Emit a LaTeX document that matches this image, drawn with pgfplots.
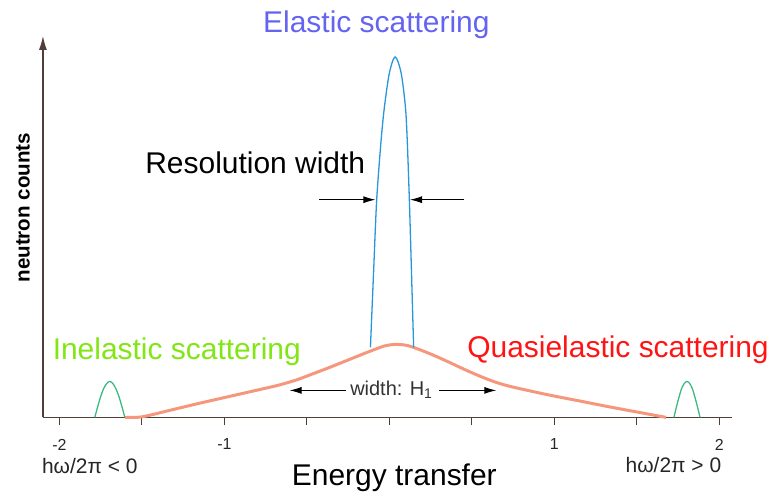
\documentclass[border=0pt]{standalone}
\usepackage{fontspec}
\setmainfont{Liberation Sans}
\usepackage{pgfplots}
\pgfplotsset{compat=1.18}
\usetikzlibrary{arrows.meta}

\definecolor{axiscol}{RGB}{80,62,56}
\definecolor{elastic}{RGB}{40,150,220}
\definecolor{elastictxt}{RGB}{100,100,240}
\definecolor{quasi}{RGB}{245,150,125}
\definecolor{quasitxt}{RGB}{255,20,20}
\definecolor{inel}{RGB}{60,185,130}
\definecolor{ineltxt}{RGB}{130,230,20}

% spectra
\pgfplotstableread{
x y
-0.115 70
-0.096 145
-0.077 218
-0.050 278
-0.030 311
0.000 345
0.035 361
0.071 345
0.097 311
0.108 278
0.121 218
0.134 145
0.147 70
}\elasticpeak

\pgfplotstableread{
x y
-1.604 0
-1.501 0.5
-1.332 7
-1.168 13.5
-0.969 21
-0.769 28.5
-0.666 32.5
-0.563 37.5
-0.466 43.5
-0.363 50
-0.242 58
-0.121 66
-0.030 71.5
0.030 73
0.091 72.5
0.139 70.5
0.242 64
0.345 56.5
0.442 49
0.545 41.5
0.648 35
0.745 30.5
0.950 23
1.150 16.5
1.350 10
1.513 5
1.677 0
}\quasipeak

\pgfplotstableread{
x y
-1.786 0
-1.768 11
-1.750 21
-1.732 29
-1.713 34
-1.695 36
-1.677 34
-1.659 29
-1.640 21
-1.622 11
-1.604 0
}\inelleft

\pgfplotstableread{
x y
1.725 0
1.741 11
1.757 21
1.772 29
1.788 34
1.804 36
1.820 34
1.836 29
1.851 21
1.867 11
1.883 0
}\inelright

\begin{document}
\begin{tikzpicture}
\begin{axis}[
  x=165.2pt, y=1pt,
  xmin=-2.1005, xmax=2.0763, ymin=0, ymax=382,
  enlargelimits=false, clip=false,
  axis x line=bottom, axis y line=left,
  x axis line style={-, draw=axiscol, line width=1.2pt},
  y axis line style={-{Latex[length=14pt,width=8pt]}, draw=axiscol, line width=1.2pt},
  ytick=\empty,
  xtick={-2,-1.5,...,2},
  xticklabels={\mbox{-2},{},\mbox{-1},{},{},{},\mbox{1},{},\mbox{2}},
  tick align=outside,
  major tick length=8pt,
  xtick style={draw=axiscol, line width=1pt},
  xticklabel style={font=\fontsize{16}{19}\selectfont, text=black!85, yshift=-10pt},
]
% frame of the page
\path (axis cs:-2.3608,-73) rectangle (axis cs:2.3123,418);

\addplot[quasi, line width=3pt, smooth, tension=0.5] table {\quasipeak};
\addplot[elastic, line width=1.3pt, smooth, tension=0.5] table {\elasticpeak};
\addplot[inel, line width=1.3pt, smooth] table {\inelleft};
\addplot[inel, line width=1.3pt, smooth] table {\inelright};

% annotations
\node[text=elastictxt, font=\fontsize{30}{34}\selectfont] at (axis cs:-0.079,393) {Elastic scattering};
\node[anchor=west, font=\fontsize{30}{34}\selectfont] at (axis cs:-1.501,255) {Resolution width};
\node[text=ineltxt, font=\fontsize{30}{34}\selectfont] at (axis cs:-1.289,66) {Inelastic scattering};
\node[text=quasitxt, font=\fontsize{30}{34}\selectfont] at (axis cs:1.386,68) {Quasielastic scattering};
\node[font=\fontsize{30}{34}\selectfont] at (axis cs:0.030,-61) {Energy transfer};
\node[text=black!85, font=\fontsize{21}{24}\selectfont] at (axis cs:-1.816,-48.5) {hω/2π < 0};
\node[text=black!85, font=\fontsize{21}{24}\selectfont] at (axis cs:1.722,-48) {hω/2π > 0};
\node[rotate=90, font=\bfseries\fontsize{20.6}{24}\selectfont] at (axis cs:-2.2215,210) {neutron counts};
\node[text=black!80, font=\fontsize{20}{24}\selectfont] at (axis cs:0.012,28) {width: H\textsubscript{1}};

\draw[-{Latex[length=12pt,width=7pt]}, line width=0.9pt] (axis cs:-0.266,27) -- (axis cs:-0.605,27);
\draw[-{Latex[length=12pt,width=7pt]}, line width=0.9pt] (axis cs:0.303,27) -- (axis cs:0.648,27);
\draw[-{Latex[length=12pt,width=7pt]}, line width=0.9pt] (axis cs:-0.424,218) -- (axis cs:-0.085,218);
\draw[-{Latex[length=12pt,width=7pt]}, line width=0.9pt] (axis cs:0.454,218) -- (axis cs:0.125,218);
\end{axis}
\end{tikzpicture}
\end{document}
